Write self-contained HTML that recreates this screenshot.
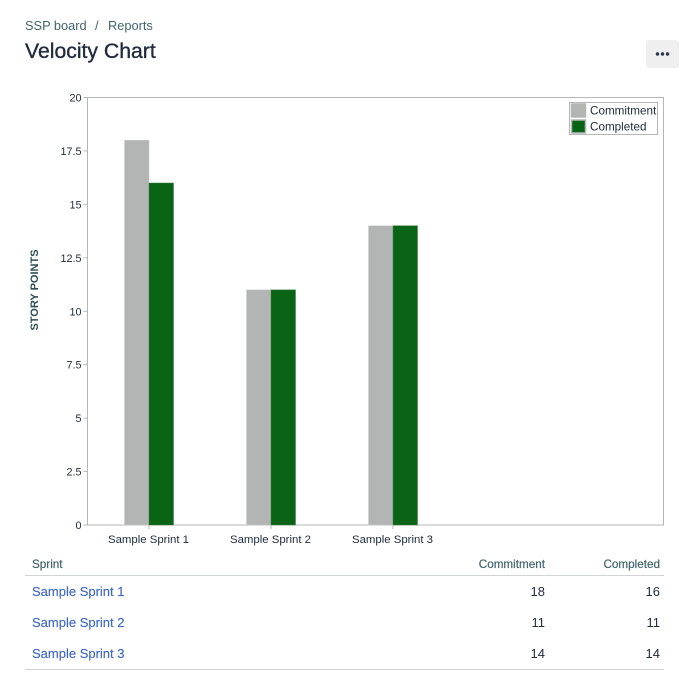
<!DOCTYPE html>
<html lang="en">
<head>
<meta charset="utf-8">
<title>Velocity Chart</title>
<style>
html,body{margin:0;padding:0;background:#fff;width:688px;height:684px;overflow:hidden;font-family:"Liberation Sans",sans-serif;}
.abs{position:absolute;white-space:nowrap;}
.crumb{top:18px;font-size:12.8px;line-height:16px;color:#42656b;text-decoration:none;}
#title{left:25px;top:39px;font-size:21.2px;line-height:26px;font-weight:400;color:#1f2a3d;margin:0;-webkit-text-stroke:0.35px #1f2a3d;}
#more{left:646px;top:40px;width:33px;height:28px;background:#efefef;border:0;border-radius:3px;padding:0;}
#more svg{display:block;}
#chart{position:absolute;left:0;top:0;}
#chart text{font-family:"Liberation Sans",sans-serif;}
#tbl{position:absolute;left:25px;top:553px;width:639px;border-collapse:collapse;table-layout:fixed;border-bottom:1px solid #d0d3d8;}
#tbl th{font-size:11.7px;font-weight:400;color:#42656b;height:22px;padding:0 4px 0 7px;border-bottom:1px solid #d0d3d8;-webkit-text-stroke:0.2px #42656b;}
#tbl td{font-size:13px;height:31px;padding:0 4px 0 7px;color:#1f2a3d;}
#tbl a{color:#3f68c4;text-decoration:none;font-size:13px;-webkit-text-stroke:0.15px #3f68c4;}
.n{text-align:right;}
.l{text-align:left;}
</style>
</head>
<body>
<nav>
<a href="#" class="abs crumb" style="left:25px">SSP board</a>
<span class="abs crumb" style="left:95px">/</span>
<a href="#" class="abs crumb" style="left:108px">Reports</a>
</nav>
<h1 id="title" class="abs">Velocity Chart</h1>
<button id="more" class="abs" aria-label="More actions">
<svg width="33" height="28"><circle cx="11.5" cy="14" r="1.7" fill="#2a3550"/><circle cx="16.5" cy="14" r="1.7" fill="#2a3550"/><circle cx="21.5" cy="14" r="1.7" fill="#2a3550"/></svg>
</button>
<svg id="chart" width="688" height="552"></svg>
<table id="tbl">
<colgroup><col style="width:424px"><col style="width:100px"><col style="width:115px"></colgroup>
<thead><tr><th class="l">Sprint</th><th class="n">Commitment</th><th class="n">Completed</th></tr></thead>
<tbody>
<tr><td><a href="#">Sample Sprint 1</a></td><td class="n">18</td><td class="n">16</td></tr>
<tr><td><a href="#">Sample Sprint 2</a></td><td class="n">11</td><td class="n">11</td></tr>
<tr><td><a href="#">Sample Sprint 3</a></td><td class="n">14</td><td class="n">14</td></tr>
</tbody>
</table>
<script>
const categories = ["Sample Sprint 1", "Sample Sprint 2", "Sample Sprint 3"];
const commitment = [18, 11, 14];
const completed = [16, 11, 14];
const yTicks = [0, 2.5, 5, 7.5, 10, 12.5, 15, 17.5, 20];
const yTickLabels = ["0", "2.5", "5", "7.5", "10", "12.5", "15", "17.5", "20"];
const legendLabels = ["Commitment", "Completed"];

const svg = document.getElementById('chart');
const NS = 'http://www.w3.org/2000/svg';
const plot = {left: 87.5, right: 663.5, top: 97.5, bottom: 525};
const band = 122, barW = 24.5, gray = '#b3b5b4', green = '#0a6415';
const yMax = 20;
function yScale(v) { return plot.bottom - (v / yMax) * (plot.bottom - plot.top); }
function xCenter(i) { return plot.left + 61.5 + i * band; }
function add(tag, attrs, parent) {
  const el = document.createElementNS(NS, tag);
  for (const k in attrs) el.setAttribute(k, attrs[k]);
  (parent || svg).appendChild(el);
  return el;
}

const frame = add('rect', {x: plot.left, y: plot.top, width: plot.right - plot.left, height: plot.bottom - plot.top, fill: '#fff', stroke: '#b4b6b7', 'stroke-width': 1});



yTicks.forEach((t, i) => {
  const y = yScale(t);
  const tick = add('line', {x1: plot.left - 4, x2: plot.left, y1: y, y2: y, stroke: '#b4b6b7'});
  
  
  const lab = add('text', {x: plot.left - 6, y: y + 4, 'text-anchor': 'end', 'font-size': 10.8, fill: '#1f2a3d'});
  
  
  lab.textContent = yTickLabels[i];
});

categories.forEach((c, i) => {
  const cx = xCenter(i);
  const b1 = add('rect', {x: cx - barW, y: yScale(commitment[i]), width: barW, height: plot.bottom - yScale(commitment[i]), fill: gray, stroke: '#c9cbcb', 'stroke-width': 0.5});
  
  
  const b2 = add('rect', {x: cx, y: yScale(completed[i]), width: barW, height: plot.bottom - yScale(completed[i]), fill: green, stroke: '#3c7a45', 'stroke-width': 0.5});
  
  
  const tick = add('line', {x1: cx, x2: cx, y1: plot.bottom, y2: plot.bottom + 4, stroke: '#b4b6b7'});
  
  
  const lab = add('text', {x: cx - 0.5, y: plot.bottom + 18, 'text-anchor': 'middle', 'font-size': 11.4, fill: '#1f2a3d'});
  
  
  lab.textContent = c;
});

const yTitle = add('text', {x: 38, y: 290, transform: 'rotate(-90 38 290)', 'text-anchor': 'middle', 'font-size': 11, 'font-weight': 700, fill: '#2c4f55'});


yTitle.textContent = 'STORY POINTS';

const legend = add('g', {});


add('rect', {x: 569.5, y: 102.5, width: 88, height: 32, fill: '#fff', stroke: '#b4b6b7'}, legend);
[gray, green].forEach((col, i) => {
  const ly = 103.5 + i * 16;
  const box = add('rect', {x: 571.5, y: ly + 0.5, width: 14, height: 13, fill: col, stroke: '#b4b6b7', 'stroke-width': 1.5}, legend);
  
  
  const t = add('text', {x: 590, y: ly + 11, 'font-size': 11.7, fill: '#1f2a3d'}, legend);
  
  
  t.textContent = legendLabels[i];
});
</script>
</body>
</html>
